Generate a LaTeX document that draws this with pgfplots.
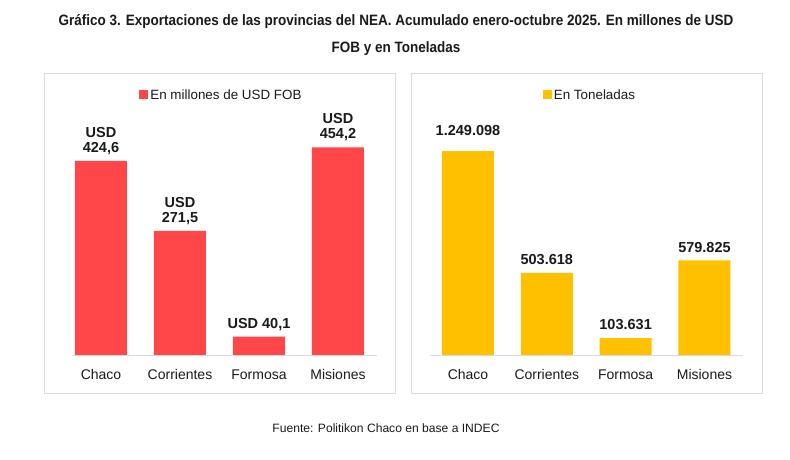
\documentclass[border=0pt]{standalone}
\usepackage{pgfplots}
\pgfplotsset{compat=1.18}
\usepackage{fontspec}
\setmainfont{Liberation Sans}
\newfontfamily\titlefont[FakeStretch=0.9]{Liberation Sans}

\definecolor{rojo}{HTML}{FF474A}
\definecolor{amarillo}{HTML}{FFC000}
\definecolor{marco}{HTML}{D9D9D9}
\definecolor{texto}{HTML}{1A1A1A}

\pgfplotsset{
  panel/.style={
    ybar, bar width=52pt, bar shift=0pt,
    scale only axis, anchor=south west,
    ymin=0, enlargelimits=false,
    hide y axis,
    axis x line*=bottom,
    axis line style={draw=marco, line width=0.9pt, -},
    xtick={0,1,2,3},
    xticklabels={Chaco,Corrientes,Formosa,Misiones},
    xtick style={draw=none},
    major tick length=0pt,
    xticklabel style={font=\fontsize{14}{16}\selectfont, text=texto, yshift=-11pt},
    nodes near coords,
    point meta=explicit symbolic,
    nodes near coords style={font=\bfseries\fontsize{14.5}{15}\selectfont, text=texto, align=center, anchor=south, inner sep=6pt},
    legend style={draw=none, fill=none, font=\fontsize{13.4}{15}\selectfont, text=texto,
      legend cell align=left, inner sep=0pt},
    legend image code/.code={\fill[##1] (0pt,-4.5pt) rectangle (9pt,4.5pt);},
  }
}

\begin{document}
\begin{tikzpicture}
  \useasboundingbox (0pt,0pt) rectangle (790pt,460pt);
  \fill[white] (0pt,0pt) rectangle (790pt,460pt);

  % title and source
  \node[font=\titlefont\bfseries\fontsize{15}{18}\selectfont, text=texto] at (396pt,438pt)
    {Gráfico 3. Exportaciones de las provincias del NEA. Acumulado enero-octubre 2025. En millones de USD};
  \node[font=\titlefont\bfseries\fontsize{15}{18}\selectfont, text=texto] at (396pt,411pt)
    {FOB y en Toneladas};
  \node[font=\fontsize{12.1}{14}\selectfont, text=texto] at (386pt,32pt)
    {Fuente: Politikon Chaco en base a INDEC};

  % panel frames
  \draw[marco, line width=0.8pt] (44pt,67pt) rectangle (395pt,387pt);
  \draw[marco, line width=0.8pt] (411pt,67pt) rectangle (762pt,387pt);

  % exports in millions of USD FOB
  \begin{axis}[panel, at={(72pt,105pt)}, width=305pt, height=228.5pt,
      xmin=-0.367, xmax=3.494, ymax=500,
      legend style={at={(0.49,1.138)}, anchor=center}]
    \addplot[fill=rojo, draw=none] coordinates {
      (0,424.6) [{USD\\424,6}]
      (1,271.5) [{USD\\271,5}]
      (2,40.1)  [{USD 40,1}]
      (3,454.2) [{USD\\454,2}]
    };
    \addlegendentry{En millones de USD FOB}
  \end{axis}

  % exports in tonnes
  \begin{axis}[panel, at={(430pt,105pt)}, width=313pt, height=228.5pt,
      xmin=-0.482, xmax=3.489, ymax=1400000,
      legend style={at={(0.511,1.138)}, anchor=center},
      nodes near coords style={inner sep=8pt}]
    \addplot[fill=amarillo, draw=none] coordinates {
      (0,1249098) [{\raisebox{7pt}{1.249.098}}]
      (1,503618)  [{503.618}]
      (2,103631)  [{103.631}]
      (3,579825)  [{579.825}]
    };
    \addlegendentry{En Toneladas}
  \end{axis}
\end{tikzpicture}
\end{document}
